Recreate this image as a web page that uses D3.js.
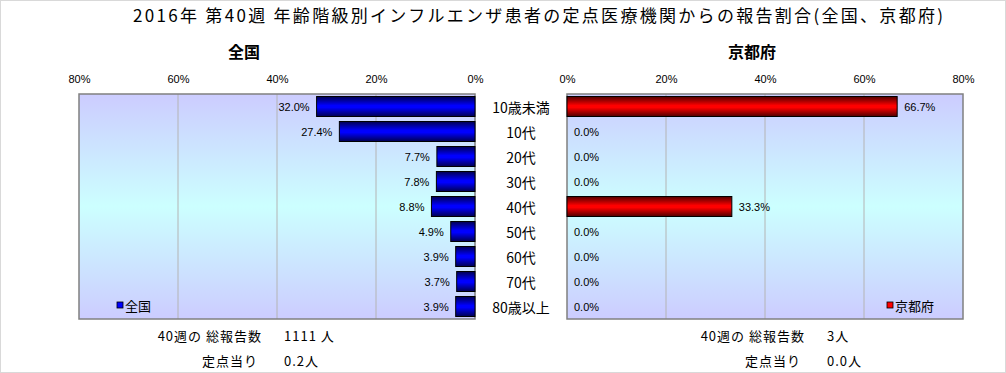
<!DOCTYPE html>
<html><head><meta charset="utf-8">
<script src="https://cdn.jsdelivr.net/npm/d3@7"></script>
<style>
body{margin:0;background:#fff;}
text{font-family:"Noto Sans CJK JP","Noto Sans",sans-serif;}
</style></head><body>
<svg id="c" width="1006" height="373"></svg>
<script>
const categories = ['10歳未満','10代','20代','30代','40代','50代','60代','70代','80歳以上'];
const nationalValues = [32.0,27.4,7.7,7.8,8.8,4.9,3.9,3.7,3.9];
const kyotoValues = [66.7,0,0,0,33.3,0,0,0,0];
const tickValues = [0,20,40,60,80];
const chartTitle = '2016年 第40週 年齢階級別インフルエンザ患者の定点医療機関からの報告割合(全国、京都府)';
const panelTitles = ['全国','京都府'];
const totalReports = ['1111 人','3人'];
const perSentinel = ['0.2人','0.0人'];

(function(){
const svg = d3.select('#c');
svg.append('rect').attr('x',0.5).attr('y',0.5).attr('width',1005).attr('height',372)
  .attr('fill','#fff').attr('stroke','#d9d9d9');

const defs = svg.append('defs');
const bg = defs.append('linearGradient').attr('id','bg').attr('x1',0).attr('y1',0).attr('x2',0).attr('y2',1);
bg.append('stop').attr('offset','0%').attr('stop-color','#ccccff');
bg.append('stop').attr('offset','50%').attr('stop-color','#ccffff');
bg.append('stop').attr('offset','100%').attr('stop-color','#ccccff');
function barGrad(id, edge, mid){
  const g = defs.append('linearGradient').attr('id',id).attr('x1',0).attr('y1',0).attr('x2',0).attr('y2',1);
  g.append('stop').attr('offset','0%').attr('stop-color',edge);
  g.append('stop').attr('offset','45%').attr('stop-color',mid);
  g.append('stop').attr('offset','55%').attr('stop-color',mid);
  g.append('stop').attr('offset','100%').attr('stop-color',edge);
}
barGrad('gBlue','#000050','#0000ff');
barGrad('gRed','#500000','#ff0000');

svg.append('text').attr('x',133).attr('y',22)
  .attr('font-size',17).attr('fill','#000')
  .attr('textLength',810).attr('lengthAdjust','spacing').text(chartTitle);

const pTop = 94, pBottom = 319;
const y = d3.scaleBand().domain(categories).range([pTop,pBottom]).paddingInner(0.2).paddingOuter(0.1);

function panel(opts){
  const {x0,x1,values,reverse,grad,legendColor,name,idx} = opts;
  const x = d3.scaleLinear().domain([0,80]).range(reverse ? [x1,x0] : [x0,x1]);
  const g = svg.append('g');
  g.append('rect').attr('x',x0).attr('y',pTop).attr('width',x1-x0).attr('height',pBottom-pTop).attr('fill','url(#bg)');
  g.selectAll('line.grid').data(tickValues.filter(t=>t>0&&t<80)).enter().append('line')
    .attr('x1',d=>x(d)).attr('x2',d=>x(d)).attr('y1',pTop).attr('y2',pBottom)
    .attr('stroke','#b4b4b4').attr('stroke-width',1);
  g.append('rect').attr('x',x0).attr('y',pTop).attr('width',x1-x0).attr('height',pBottom-pTop)
    .attr('fill','none').attr('stroke','#808080').attr('stroke-width',1.5);
  const ag = g.append('g').attr('transform',`translate(0,${pTop})`)
    .call(d3.axisTop(x).tickValues(tickValues).tickFormat(d=>d+'%').tickSize(0).tickPadding(11));
  ag.select('.domain').remove();
  ag.selectAll('text').attr('font-size',11).attr('fill','#000').style('font-family','"Liberation Sans",Arial,sans-serif');
  values.forEach((v,i)=>{
    if(v>0){
      g.append('rect').attr('x',Math.min(x(0),x(v))).attr('y',y(categories[i]))
        .attr('width',Math.abs(x(v)-x(0))).attr('height',y.bandwidth())
        .attr('fill',`url(#${grad})`).attr('stroke','#000').attr('stroke-width',1);
    }
    g.append('text')
      .attr('x', reverse ? x(v)-7 : x(v)+7)
      .attr('y', y(categories[i])+y.bandwidth()/2+4)
      .attr('text-anchor', reverse ? 'end' : 'start')
      .attr('font-size',11).attr('fill','#000')
      .style('font-family','"Liberation Sans",Arial,sans-serif')
      .text(v.toFixed(1)+'%');
  });
  svg.append('text').attr('x',opts.titleX).attr('y',58).attr('text-anchor','middle')
    .attr('font-size',16).attr('font-weight','bold').attr('fill','#000').text(name);
  const lx = opts.legendX, ly = 307;
  svg.append('rect').attr('x',lx).attr('y',ly-5).attr('width',6).attr('height',6)
    .attr('fill',legendColor).attr('stroke','#000').attr('stroke-width',0.8);
  svg.append('text').attr('x',lx+8).attr('y',ly+4).attr('font-size',13).attr('fill','#000').text(name);
  svg.append('text').attr('x',opts.footX).attr('y',341).attr('text-anchor','end').attr('font-size',13)
    .attr('letter-spacing',1).attr('fill','#000').text('40週の 総報告数');
  svg.append('text').attr('x',opts.footX+22).attr('y',341).attr('font-size',13).attr('letter-spacing',1).attr('fill','#000').text(totalReports[idx]);
  svg.append('text').attr('x',opts.footX-4).attr('y',366).attr('text-anchor','end').attr('font-size',13)
    .attr('letter-spacing',1).attr('fill','#000').text('定点当り');
  svg.append('text').attr('x',opts.footX+22).attr('y',366).attr('font-size',13).attr('letter-spacing',1).attr('fill','#000').text(perSentinel[idx]);
}

panel({x0:79,x1:475,values:nationalValues,reverse:true,grad:'gBlue',legendColor:'#0000ff',name:panelTitles[0],idx:0,titleX:244,legendX:117,footX:262});
panel({x0:567,x1:963,values:kyotoValues,reverse:false,grad:'gRed',legendColor:'#ff0000',name:panelTitles[1],idx:1,titleX:752,legendX:887,footX:805});

svg.selectAll('text.cat').data(categories).enter().append('text').attr('class','cat')
  .attr('x',521).attr('y',d=>y(d)+y.bandwidth()/2+6)
  .attr('text-anchor','middle').attr('font-size',14).attr('fill','#000').text(d=>d);
})();
</script>
</body></html>
